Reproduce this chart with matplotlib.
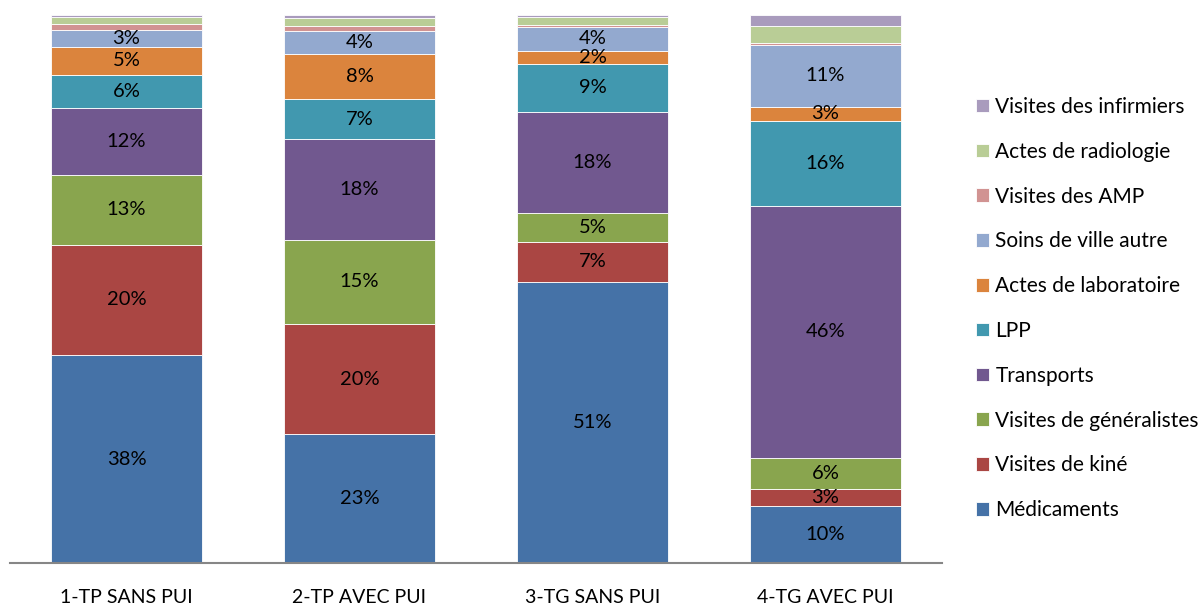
import matplotlib
matplotlib.use("Agg")
import matplotlib.pyplot as plt
import numpy as np

plt.rcParams['font.family'] = ['Lato', 'DejaVu Sans']

groups = ["1-TP SANS PUI", "2-TP AVEC PUI", "3-TG SANS PUI", "4-TG AVEC PUI"]
series = ["Médicaments", "Visites de kiné", "Visites de généralistes", "Transports",
          "LPP", "Actes de laboratoire", "Soins de ville autre", "Visites des AMP",
          "Actes de radiologie", "Visites des infirmiers"]
colors = ["#4572A7", "#AA4643", "#89A54E", "#71588F", "#4198AF",
          "#DB843D", "#93A9CF", "#D19392", "#B9CD96", "#A99BBD"]

# shares per group (% of total), one list per series
medicaments = [38.0, 23.5, 51.3, 10.4]
kine = [20.2, 20.2, 7.3, 3.1]
generalistes = [12.8, 15.3, 5.3, 5.8]
transports = [12.2, 18.4, 18.4, 46.0]
lpp = [6.0, 7.3, 8.8, 15.6]
laboratoire = [5.1, 8.3, 2.3, 2.6]
soins_autre = [3.2, 4.2, 4.4, 11.2]
amp = [1.1, 0.85, 0.4, 0.5]
radiologie = [1.1, 1.5, 1.3, 3.0]
infirmiers = [0.4, 0.5, 0.4, 2.0]

data = np.array([medicaments, kine, generalistes, transports, lpp,
                 laboratoire, soins_autre, amp, radiologie, infirmiers])
data = data / data.sum(axis=0) * 100
labelled = 7  # only the first seven series carry data labels

fig = plt.figure(figsize=(12.04, 6.06), dpi=100)
ax = fig.add_axes([10/1204, 1-563/606, 932/1204, (563-15.3)/606])

x = np.arange(len(groups))
bottom = np.zeros(len(groups))
handles = []
for i, (name, col) in enumerate(zip(series, colors)):
    bars = ax.bar(x, data[i], 0.644, bottom=bottom, color=col,
                  edgecolor="white", linewidth=0.6, label=name)
    handles.append(bars)
    if i < labelled:
        for xi, v, b in zip(x, data[i], bottom):
            ax.text(xi, b + v/2, f"{v:.0f}%", ha="center", va="center",
                    fontsize=14.5, color="black")
    bottom += data[i]

ax.set_xlim(-0.5, 3.5)
ax.set_ylim(0, 100)
ax.set_xticks(x)
ax.set_xticklabels(groups, fontsize=14)
ax.tick_params(axis="x", length=0, pad=19)
ax.set_yticks([])
for s in ["top", "right", "left"]:
    ax.spines[s].set_visible(False)
ax.spines["bottom"].set_color("#868686")
ax.spines["bottom"].set_linewidth(1.5)

fig.legend(handles[::-1], series[::-1], loc="upper left",
           bbox_to_anchor=(976/1204, 1-97/606), frameon=False,
           fontsize=15, handlelength=0.63, handleheight=0.63,
           handletextpad=0.3, labelspacing=1.19, borderpad=0, borderaxespad=0)

fig.savefig("out.png", dpi=100)
